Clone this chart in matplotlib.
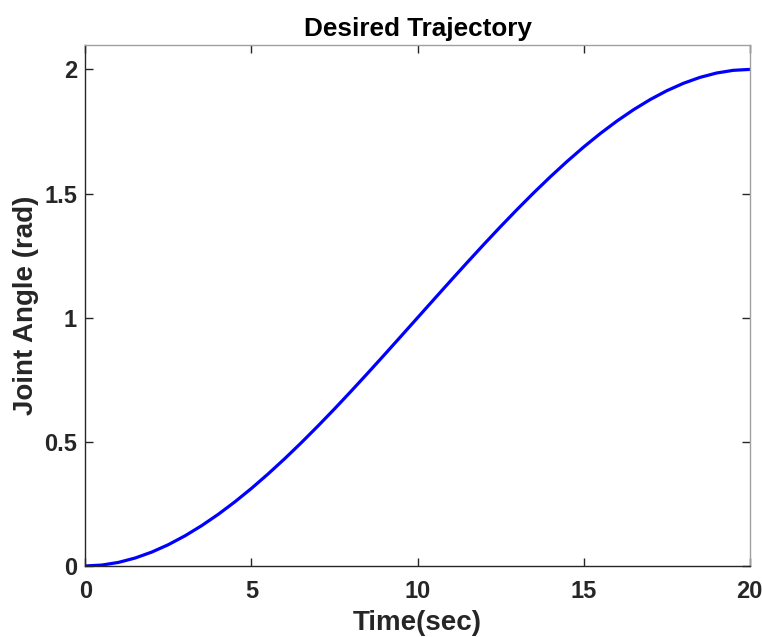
import numpy as np
import matplotlib
matplotlib.use('Agg')
import matplotlib.pyplot as plt

##Joint angle of the desired trajectory, sampled every half second
time_sec = [0, 0.5, 1, 1.5, 2, 2.5, 3, 3.5, 4, 4.5, 5, 5.5, 6, 6.5, 7, 7.5, 8, 8.5, 9, 9.5,
            10, 10.5, 11, 11.5, 12, 12.5, 13, 13.5, 14, 14.5, 15, 15.5, 16, 16.5, 17, 17.5,
            18, 18.5, 19, 19.5, 20]
joint_angle = [0, 0.0037, 0.0145, 0.0321, 0.056, 0.0859, 0.1215, 0.1623, 0.208, 0.2582,
               0.3125, 0.3706, 0.432, 0.4964, 0.5635, 0.6328, 0.704, 0.7767, 0.8505, 0.9251,
               1.0, 1.0749, 1.1495, 1.2233, 1.296, 1.3672, 1.4365, 1.5036, 1.568, 1.6294,
               1.6875, 1.7418, 1.792, 1.8377, 1.8785, 1.9141, 1.944, 1.9679, 1.9855, 1.9963, 2.0]

x_ticks = [0, 5, 10, 15, 20]
y_ticks = [0, 0.5, 1, 1.5, 2]
y_tick_labels = ['0', '0.5', '1', '1.5', '2']

plt.rcParams['font.family'] = ['Liberation Sans', 'DejaVu Sans']
plt.rcParams['font.weight'] = 'bold'
txt = '#262626'

fig = plt.figure(figsize=(7.62, 6.37), dpi=100)
ax = fig.add_axes([0.112, 0.1115, 0.872, 0.8185])

ax.plot(time_sec, joint_angle, color='#0000ff', linewidth=2.3)

ax.set_xlim(0, 20)
ax.set_ylim(0, 2.1)
ax.set_xticks(x_ticks)
ax.set_yticks(y_ticks)
ax.set_yticklabels(y_tick_labels)

ax.tick_params(direction='in', top=True, right=True, length=6, width=1,
               labelsize=17, labelcolor=txt, color='#262626')
ax.tick_params(axis='x', pad=10)
ax.tick_params(axis='y', pad=6)
for side in ['left', 'bottom']:
    ax.spines[side].set_color('#262626')
for side in ['top', 'right']:
    ax.spines[side].set_color('#a0a0a0')
for sp in ax.spines.values():
    sp.set_linewidth(1)

ax.set_title('Desired Trajectory', fontsize=18.8, fontweight='bold', color='black', pad=6)
ax.set_xlabel('Time(sec)', fontsize=20, fontweight='bold', color=txt, labelpad=5)
ax.set_ylabel('Joint Angle (rad)', fontsize=20, fontweight='bold', color=txt, labelpad=3.5)

fig.savefig('out.png', dpi=100)
